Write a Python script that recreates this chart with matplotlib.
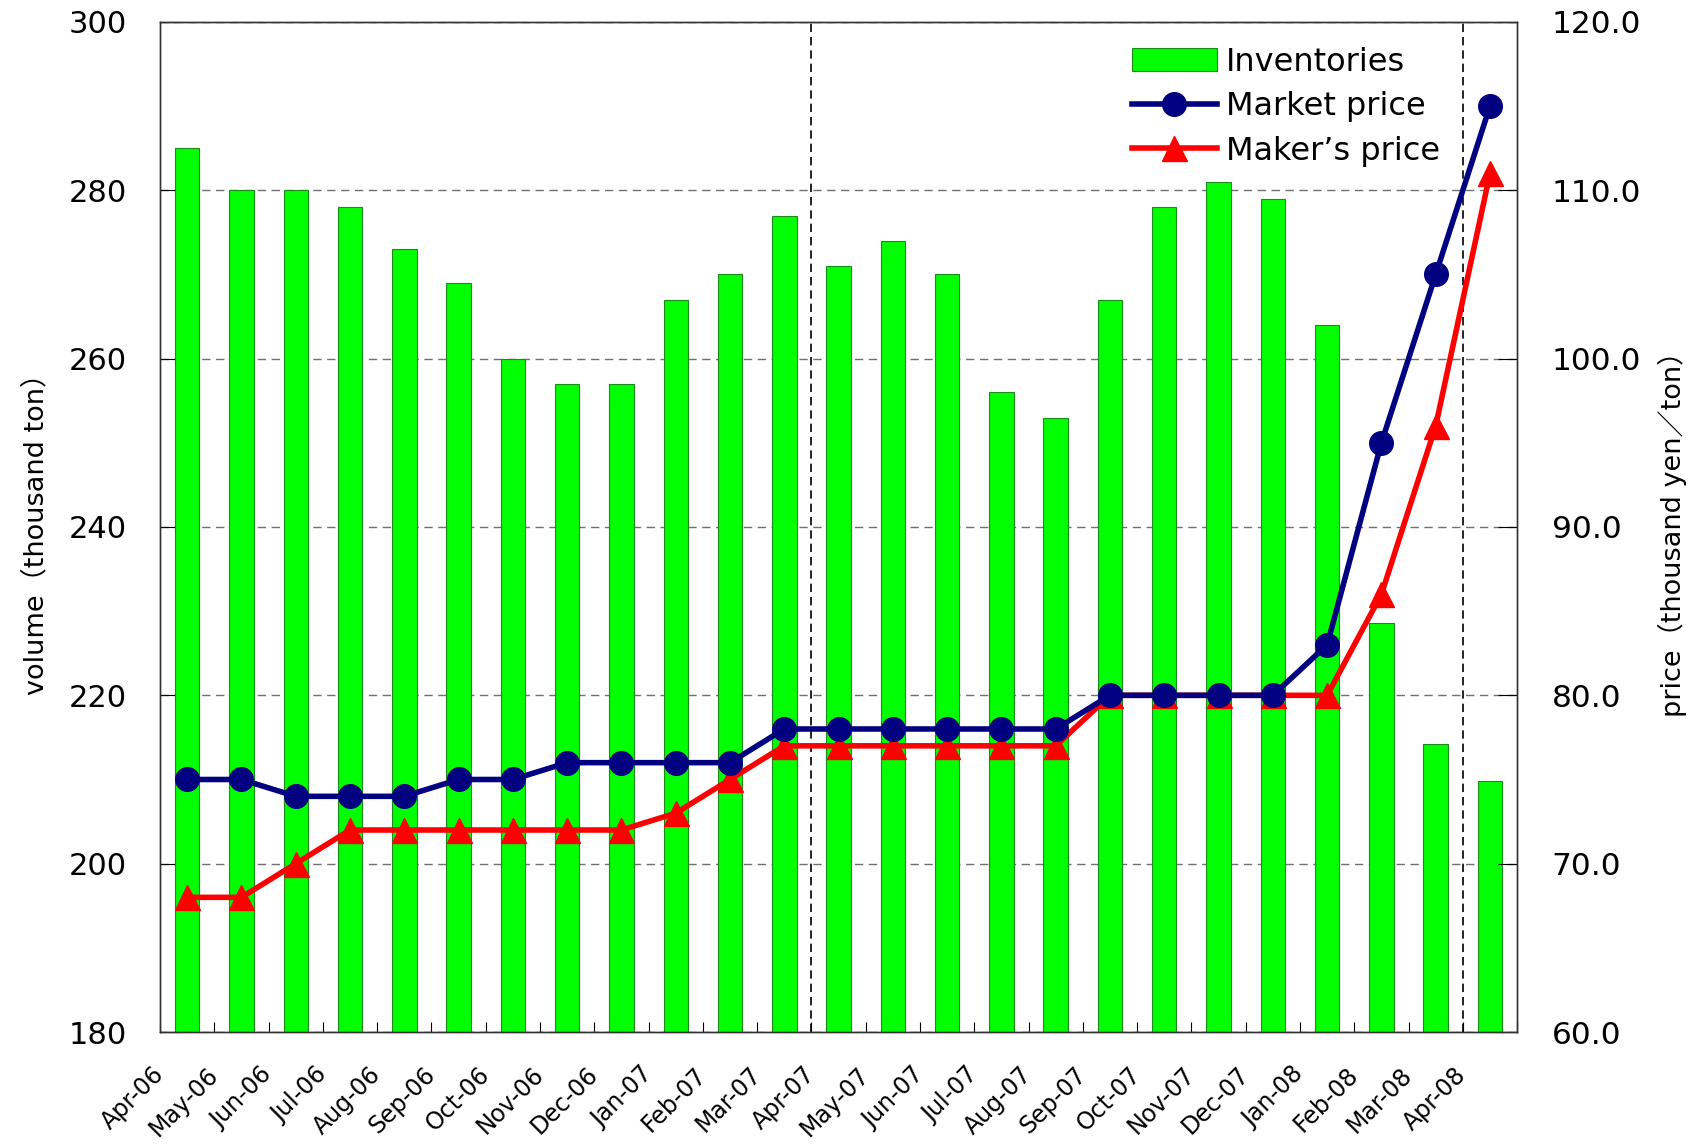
import matplotlib
matplotlib.use("Agg")
import matplotlib.pyplot as plt
import numpy as np

plt.rcParams['font.family'] = ['DejaVu Sans', 'Noto Sans CJK JP']

months = ["Apr-06", "May-06", "Jun-06", "Jul-06", "Aug-06", "Sep-06", "Oct-06",
          "Nov-06", "Dec-06", "Jan-07", "Feb-07", "Mar-07", "Apr-07", "May-07",
          "Jun-07", "Jul-07", "Aug-07", "Sep-07", "Oct-07", "Nov-07", "Dec-07",
          "Jan-08", "Feb-08", "Mar-08", "Apr-08"]
inventories = [285, 280, 280, 278, 273, 269, 260, 257, 257, 267, 270, 277, 271,
               274, 270, 256, 253, 267, 278, 281, 279, 264, 228.6, 214.2, 209.8]
market_price = [75, 75, 74, 74, 74, 75, 75, 76, 76, 76, 76, 78, 78, 78, 78, 78,
                78, 80, 80, 80, 80, 83, 95, 105, 115]
makers_price = [68, 68, 70, 72, 72, 72, 72, 72, 72, 73, 75, 77, 77, 77, 77, 77,
                77, 80, 80, 80, 80, 80, 86, 96, 111]
left_ticks = [180, 200, 220, 240, 260, 280, 300]
right_ticks = [60, 70, 80, 90, 100, 110, 120]
fiscal_breaks = [11.5, 23.5]

fig = plt.figure(figsize=(16.97, 11.44), dpi=100)
ax = fig.add_axes([0.0943, 0.0979, 0.894 - 0.0943, 0.9808 - 0.0979])
ax2 = ax.twinx()

x = np.arange(len(months))
bars = ax.bar(x, inventories, width=0.45, color="#00FF00", edgecolor="#1a8a1a",
              linewidth=0.8, label="Inventories", zorder=2)
ax.set_ylim(180, 300)
ax.set_xlim(-0.5, len(months) - 0.5)
ax.set_yticks(left_ticks)
ax.set_yticklabels([str(t) for t in left_ticks], fontsize=22)
ax.yaxis.grid(True, linestyle=(0, (6, 4)), color="#707070", linewidth=1.0)
ax.set_axisbelow(True)
for b in fiscal_breaks:
    ax.axvline(b, color="black", linestyle=(0, (5, 3)), linewidth=1.2, zorder=3)

bounds = np.arange(len(months) + 1) - 0.5
ax.set_xticks(bounds)
ax.set_xticklabels(months + [""], fontsize=17, rotation=45, ha="right",
                   va="center", rotation_mode="anchor")
ax.tick_params(axis="x", direction="in", length=7, pad=28)
ax.tick_params(axis="y", direction="in", length=14, pad=24)
ax.set_ylabel("volume（thousand ton）", fontsize=19.5, labelpad=14)

l1, = ax2.plot(x, market_price, color="#000080", linewidth=4, marker="o",
               markersize=17, label="Market price", zorder=5)
l2, = ax2.plot(x, makers_price, color="#FF0000", linewidth=4, marker="^",
               markersize=18, label="Maker's price", zorder=4)
ax2.set_ylim(60, 120)
ax2.set_yticks(right_ticks)
ax2.set_yticklabels([f"{t:.1f}" for t in right_ticks], fontsize=22.5)
ax2.tick_params(axis="y", direction="in", length=14, pad=25)
ax2.set_ylabel("price（thousand yen／ton）", fontsize=19.5, labelpad=12)

for a in (ax, ax2):
    for s in a.spines.values():
        s.set_color("#333333")
        s.set_linewidth(1.0)

leg = ax2.legend([bars, l1, l2], ["Inventories", "Market price", "Maker’s price"],
                 loc="upper left", bbox_to_anchor=(0.695, 1.004), frameon=False,
                 fontsize=23, handlelength=2.65, handletextpad=0.3,
                 labelspacing=0.42)

fig.savefig("out.png", dpi=100)
